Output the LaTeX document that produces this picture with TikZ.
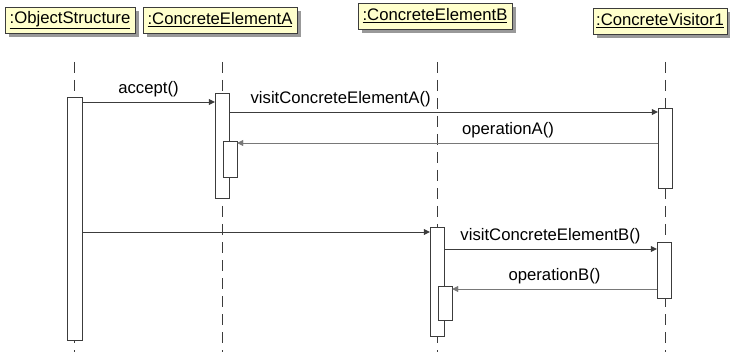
\documentclass[tikz,border=0pt]{standalone}
\usepackage{fontspec}
\setmainfont{Liberation Sans}
\usetikzlibrary{arrows.meta,shadows}
\definecolor{notefill}{RGB}{255,255,204}
\definecolor{linegray}{RGB}{60,60,60}
\definecolor{retgray}{RGB}{120,120,120}
\tikzset{
  objbox/.style = {draw=linegray, fill=notefill, minimum height=26pt, inner sep=0pt,
    drop shadow={shadow xshift=4pt, shadow yshift=-4pt, fill=gray!80, opacity=1}},
  lifeline/.style = {linegray, dash pattern=on 11pt off 7pt},
  bar/.style = {draw=linegray, fill=white, minimum width=14pt, inner sep=0pt},
  msg/.style = {linegray, -{Triangle[length=6pt,width=6pt]}},
  ret/.style = {retgray, -{Triangle[length=6pt,width=6pt]}},
  msglabel/.style = {above=5pt, inner sep=0pt, text=black}
}

\begin{document}
\begin{tikzpicture}[x=1pt,y=-1pt,font=\fontsize{16.7}{20}\selectfont]
  \useasboundingbox (0,0) rectangle (730,355);
  % objects
  \node[objbox, minimum width=130pt] (os) at (70,20)   {\underline{:ObjectStructure}};
  \node[objbox, minimum width=154pt] (ea) at (220,20)  {\underline{:ConcreteElementA}};
  \node[objbox, minimum width=154pt] (eb) at (435,16)  {\underline{:ConcreteElementB}};
  \node[objbox, minimum width=134pt] (cv) at (660,21)  {\underline{:ConcreteVisitor1}};
  % lifelines
  \coordinate (ostop) at (74.5,62);  \coordinate (osend) at (74.5,352);
  \coordinate (eatop) at (222,62);   \coordinate (eaend) at (222,352);
  \coordinate (ebtop) at (437,62);   \coordinate (ebend) at (437,352);
  \coordinate (cvtop) at (665,62);   \coordinate (cvend) at (665,352);
  \draw[lifeline] (ostop) -- (osend);
  \draw[lifeline] (eatop) -- (eaend);
  \draw[lifeline] (ebtop) -- (ebend);
  \draw[lifeline] (cvtop) -- (cvend);
  % activations
  \node[bar, minimum width=15pt, minimum height=243pt] (osbar) at (74.5,218.5) {};
  \node[bar, minimum height=105pt] (eabar)  at (222,145.5) {};
  \node[bar, minimum height=36pt]  (eanest) at (230,159)   {};
  \node[bar, minimum height=80pt]  (cvbar)  at (665,148)   {};
  \node[bar, minimum height=109pt] (ebbar)  at (437,281.5) {};
  \node[bar, minimum height=34pt]  (ebnest) at (445,303)   {};
  \node[bar, minimum height=56pt]  (cvbarb) at (664,270)   {};
  % message heights
  \coordinate (yaccept) at (0,102);
  \coordinate (yvisa)   at (0,112);
  \coordinate (yopa)    at (0,143);
  \coordinate (ycall)   at (0,232);
  \coordinate (yvisb)   at (0,249);
  \coordinate (yopb)    at (0,289);
  % messages
  \draw[msg] (osbar.east |- yaccept) -- node[msglabel] {accept()} (eabar.west |- yaccept);
  \draw[msg] (eabar.east |- yvisa) -- node[msglabel, pos=0.26] {visitConcreteElementA()} (cvbar.west |- yvisa);
  \draw[ret] (cvbar.west |- yopa) -- node[msglabel, pos=0.356] {operationA()} (eanest.east |- yopa);
  \draw[msg] (osbar.east |- ycall) -- (ebbar.west |- ycall);
  \draw[msg] (ebbar.east |- yvisb) -- node[msglabel] {visitConcreteElementB()} (cvbarb.west |- yvisb);
  \draw[ret] (cvbarb.west |- yopb) -- node[msglabel] {operationB()} (ebnest.east |- yopb);
\end{tikzpicture}
\end{document}
